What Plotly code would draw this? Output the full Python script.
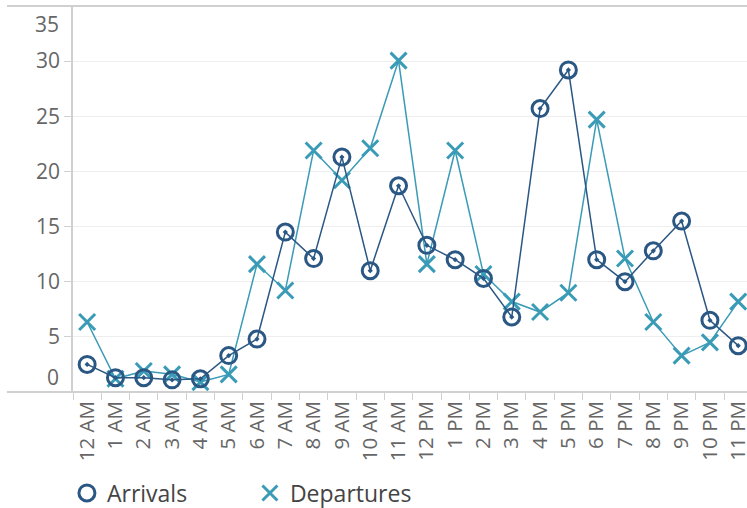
import plotly.graph_objects as go

hours = ["12 AM", "1 AM", "2 AM", "3 AM", "4 AM", "5 AM", "6 AM", "7 AM", "8 AM", "9 AM",
         "10 AM", "11 AM", "12 PM", "1 PM", "2 PM", "3 PM", "4 PM", "5 PM", "6 PM", "7 PM",
         "8 PM", "9 PM", "10 PM", "11 PM"]

arrivals = [2.5, 1.3, 1.3, 1.1, 1.2, 3.3, 4.8, 14.5, 12.1, 21.3, 11.0, 18.7,
            13.3, 12.0, 10.3, 6.8, 25.7, 29.2, 12.0, 10.0, 12.8, 15.5, 6.5, 4.2]

departures = [6.35, 1.2, 1.9, 1.6, 0.9, 1.6, 11.6, 9.2, 21.9, 19.2, 22.1, 30.05,
              11.6, 21.9, 10.7, 8.2, 7.25, 9.0, 24.7, 12.1, 6.35, 3.3, 4.5, 8.2]

y_ticks = [5, 10, 15, 20, 25, 30]

C_ARR = "#2a5783"
C_DEP = "#3a9bb6"
FONT = "Open Sans"

fig = go.Figure()

fig.add_trace(go.Scatter(
    x=hours, y=departures, mode="lines+markers", name="Departures", showlegend=False,
    line=dict(color=C_DEP, width=1.5),
    marker=dict(symbol="x-thin-open", size=16, color=C_DEP, line=dict(color=C_DEP, width=3)),
))
fig.add_trace(go.Scatter(
    x=hours, y=arrivals, mode="lines+markers", name="Arrivals", showlegend=False,
    line=dict(color=C_ARR, width=1.5),
    marker=dict(symbol="circle-open-dot", size=16, color=C_ARR, line=dict(color=C_ARR, width=3)),
))

# legend-only entries (markers without line, like the reference)
fig.add_trace(go.Scatter(
    x=[None], y=[None], mode="markers", name="Arrivals",
    marker=dict(symbol="circle-open", size=16, color=C_ARR, line=dict(color=C_ARR, width=3)),
))
fig.add_trace(go.Scatter(
    x=[None], y=[None], mode="markers", name="Departures",
    marker=dict(symbol="x-thin-open", size=15, color=C_DEP, line=dict(color=C_DEP, width=3)),
))

L, R, T, B = 73, 0, 6, 116
W, H = 747, 508
pw = W - L - R
ph = H - T - B

fig.update_layout(
    width=W, height=H,
    margin=dict(l=L, r=R, t=T, b=B, pad=0, autoexpand=False),
    paper_bgcolor="white", plot_bgcolor="white",
    font=dict(family=FONT, color="#666666"),
    xaxis=dict(
        type="category", categoryorder="array", categoryarray=hours,
        range=[-0.5, 23.31], tickson="boundaries", ticks="outside", ticklen=7,
        tickcolor="#d0d0d0", tickwidth=1, showgrid=False, showline=False, zeroline=False,
        tickangle=-90, tickfont=dict(size=20.5, color="#666666", family=FONT),
        ticklabelstandoff=4, automargin=False,
    ),
    yaxis=dict(
        range=[0, 35], tickvals=y_ticks, ticks="outside", ticklen=7, tickcolor="#d0d0d0",
        showgrid=True, gridcolor="#eeeeee", gridwidth=1.2, zeroline=False,
        showline=True, linecolor="#d0d0d0", linewidth=1.5, automargin=False,
        tickfont=dict(size=21, color="#666666", family=FONT),
    ),
    legend=dict(
        orientation="h", x=-0.009, xanchor="left", y=(392 - 493) / ph, yanchor="middle",
        font=dict(size=23, color="#444444", family=FONT), entrywidth=138,
        bgcolor="rgba(0,0,0,0)",
    ),
    showlegend=True,
)

x0p = (7 - L) / pw
fig.add_shape(type="line", xref="paper", yref="paper", x0=x0p, x1=1, y0=1, y1=1,
              line=dict(color="#d0d0d0", width=2), layer="above")
fig.add_shape(type="line", xref="paper", yref="paper", x0=x0p, x1=1, y0=0, y1=0,
              line=dict(color="#d0d0d0", width=2), layer="above")

# end labels shifted inward, as in the reference
fig.add_annotation(x=0, xref="paper", y=1.4, yref="y", text="0", showarrow=False,
                   xanchor="right", yanchor="middle", xshift=-12,
                   font=dict(size=21, color="#666666", family=FONT))
fig.add_annotation(x=0, xref="paper", y=33.4, yref="y", text="35", showarrow=False,
                   xanchor="right", yanchor="middle", xshift=-12,
                   font=dict(size=21, color="#666666", family=FONT))

fig.write_html("out.html")
